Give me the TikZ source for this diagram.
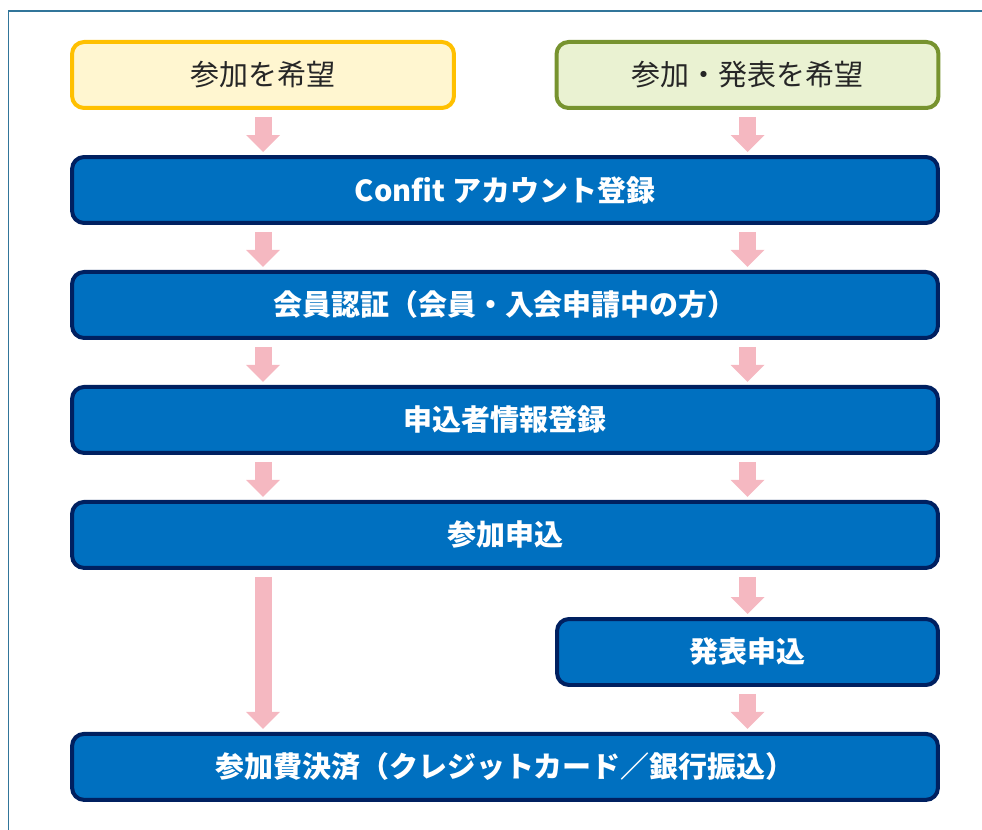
\documentclass[tikz,border=0pt]{standalone}
\usepackage{fontspec}
\setmainfont{Noto Sans CJK JP}
\usetikzlibrary{positioning,arrows.meta}
\definecolor{framecol}{RGB}{49,117,154}
\definecolor{wishyellow}{RGB}{255,192,0}
\definecolor{wishyellowbg}{RGB}{255,246,208}
\definecolor{wishgreen}{RGB}{119,147,47}
\definecolor{wishgreenbg}{RGB}{234,242,210}
\definecolor{stepblue}{RGB}{0,112,192}
\definecolor{stepnavy}{RGB}{0,32,96}
\definecolor{arrowpink}{RGB}{245,184,193}
\definecolor{darktext}{RGB}{38,38,38}

\begin{document}
\begin{tikzpicture}[x=0.02cm,y=-0.02cm,node distance=2.3cm,on grid,
  wish/.style={rounded corners=0.24cm,line width=0.08cm,minimum width=7.64cm,
    minimum height=1.32cm,text=darktext,font=\fontsize{16.5}{18}\selectfont},
  stepbox/.style={draw=stepnavy,fill=stepblue,rounded corners=0.24cm,line width=0.08cm,
    minimum width=17.32cm,minimum height=1.32cm,text=white,
    font=\fontsize{16.5}{18}\selectfont\bfseries},
  flow/.style={arrowpink,line width=0.34cm,
    -{Triangle[width=0.68cm,length=0.34cm,line width=0pt]},
    shorten <=0.14cm,shorten >=0.06cm}]
\useasboundingbox (0,0) rectangle (982,830);
\draw[framecol,line width=0.04cm] (8.5,830) -- (8.5,11.5) -- (982,11.5);

\node[wish,draw=wishyellow,fill=wishyellowbg] (want_join) at (263,75) {参加を希望};
\node[wish,draw=wishgreen,fill=wishgreenbg] (want_talk) at (747.5,75) {参加・発表を希望};
\node[stepbox] (account) at (505,190) {Confit アカウント登録};
\node[stepbox] (member) [below=of account] {会員認証（会員・入会申請中の方）};
\node[stepbox] (entry) [below=of member] {申込者情報登録};
\node[stepbox] (apply) [below=of entry] {参加申込};
\node[stepbox] (pay) [below=4.64cm of apply] {参加費決済（クレジットカード／銀行振込）};
\node[stepbox,minimum width=7.62cm] (talk) at (747.5,652) {発表申込};

\path[flow]
(want_join.south) edge (want_join.south |- account.north)
(want_talk.south) edge (want_talk.south |- account.north)
(account.south -| want_join) edge (member.north -| want_join)
(account.south -| want_talk) edge (member.north -| want_talk)
(member.south -| want_join) edge (entry.north -| want_join)
(member.south -| want_talk) edge (entry.north -| want_talk)
(entry.south -| want_join) edge (apply.north -| want_join)
(entry.south -| want_talk) edge (apply.north -| want_talk)
(apply.south -| want_join) edge (pay.north -| want_join)
(apply.south -| talk) edge (talk.north)
(talk.south) edge (talk.south |- pay.north);
\end{tikzpicture}
\end{document}
